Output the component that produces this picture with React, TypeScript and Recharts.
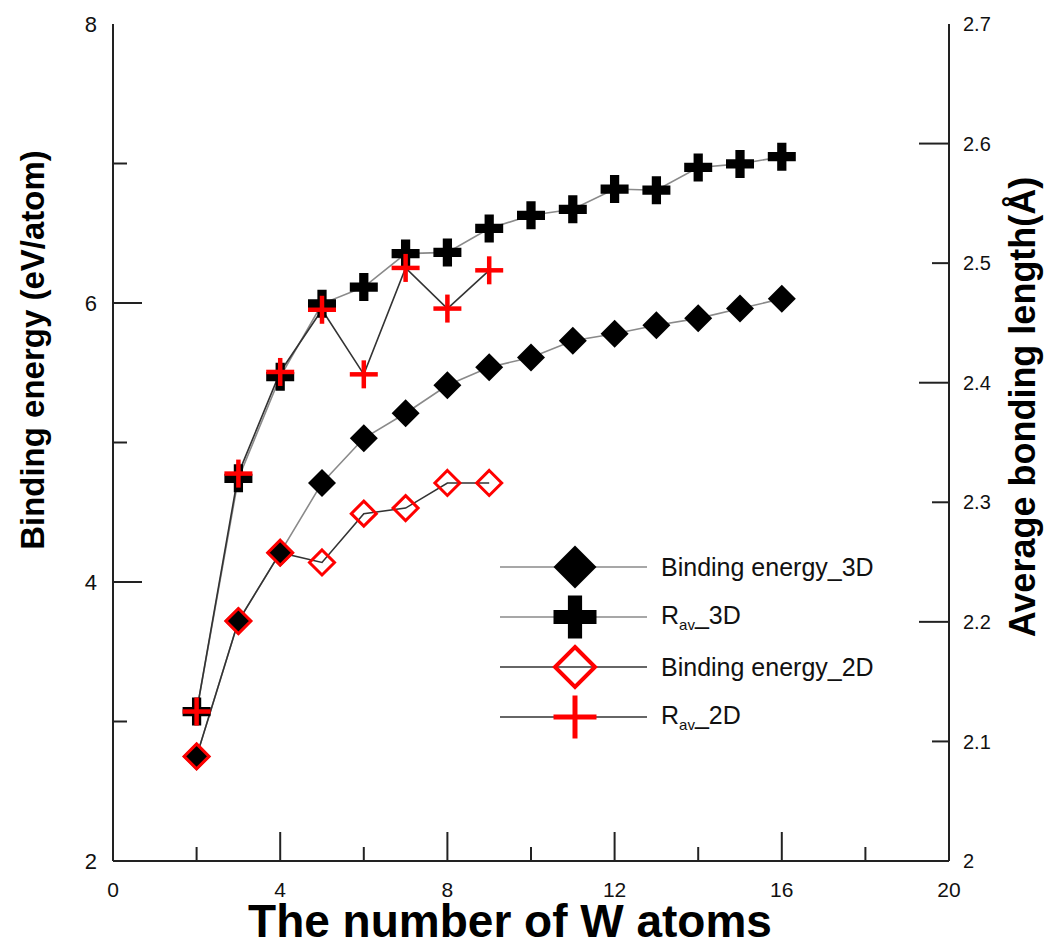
import React from 'react';
import { LineChart, Line, XAxis, YAxis, Legend } from 'recharts';

// number of W atoms in the cluster
const ATOMS = [2, 3, 4, 5, 6, 7, 8, 9, 10, 11, 12, 13, 14, 15, 16];
// binding energy (eV/atom), left axis
const BE_3D = [2.75, 3.72, 4.21, 4.71, 5.03, 5.21, 5.41, 5.54, 5.61, 5.73, 5.78, 5.84, 5.89, 5.96, 6.03];
const BE_2D = [2.75, 3.72, 4.21, 4.14, 4.49, 4.53, 4.71, 4.71];
// average bonding length (Å), right axis
const RAV_3D = [2.125, 2.32, 2.405, 2.466, 2.48, 2.508, 2.509, 2.529, 2.54, 2.545, 2.562, 2.561, 2.58, 2.583, 2.589];
const RAV_2D = [2.125, 2.324, 2.409, 2.461, 2.407, 2.496, 2.462, 2.494];

const X_TICKS = [0, 2, 4, 6, 8, 10, 12, 14, 16, 18, 20];
const LEFT_TICKS = [2, 3, 4, 5, 6, 7, 8];
const RIGHT_TICKS = [2, 2.1, 2.2, 2.3, 2.4, 2.5, 2.6, 2.7];

const FONT = '"Liberation Sans", Arial, sans-serif';
const AXIS = '#222';
const RED = '#ff0000';
const GRAY_LINE = '#8a8a8a';
const DARK_LINE = '#333';

// recharts treats tickSize 0 as "use default", so keep it at 1 and add it back
const TS = 1;
const X_GAP = 20;
const L_GAP = 15;
const R_GAP = 13;

const rows = ATOMS.map((n, i) => ({
  n,
  be3d: BE_3D[i],
  rav3d: RAV_3D[i],
  be2d: BE_2D[i] ?? null,
  rav2d: RAV_2D[i] ?? null,
}));

type Kind = 'diamond' | 'cross' | 'odiamond' | 'tcross';

function Marker({ kind, cx, cy, s }: { kind: Kind; cx: number; cy: number; s: number }) {
  if (kind === 'diamond') {
    return <path d={`M${cx},${cy - s}L${cx + s},${cy}L${cx},${cy + s}L${cx - s},${cy}Z`} fill="#000" />;
  }
  if (kind === 'odiamond') {
    const r = s - 1.5;
    return (
      <path d={`M${cx},${cy - r}L${cx + r},${cy}L${cx},${cy + r}L${cx - r},${cy}Z`}
            fill="none" stroke={RED} strokeWidth={s > 16 ? 4 : 3} />
    );
  }
  if (kind === 'cross') {
    const t = s * 0.33;
    const d = `M${cx - t},${cy - s}H${cx + t}V${cy - t}H${cx + s}V${cy + t}H${cx + t}V${cy + s}H${cx - t}V${cy + t}H${cx - s}V${cy - t}H${cx - t}Z`;
    return <path d={d} fill="#000" />;
  }
  const w = s > 16 ? 5 : 4.5;
  return (
    <g stroke={RED} strokeWidth={w}>
      <line x1={cx - s} x2={cx + s} y1={cy} y2={cy} />
      <line x1={cx} x2={cx} y1={cy - s} y2={cy + s} />
    </g>
  );
}

const makeDot = (kind: Kind) => (props: any) => {
  const { cx, cy, index } = props;
  if (cx == null || cy == null || Number.isNaN(cy)) return <g key={index} />;
  return <Marker key={index} kind={kind} cx={cx} cy={cy} s={14} />;
};

function BottomTick(props: any) {
  const { x, y, payload } = props;
  const v = payload.value;
  const major = v % 4 === 0;
  const axisY = y - X_GAP - TS;
  return (
    <g>
      {v > 0 && v < 20 && (
        <line x1={x} x2={x} y1={axisY} y2={axisY - (major ? 29 : 14)} stroke={AXIS} strokeWidth={2} />
      )}
      {major && (
        <text x={x} y={y} dy="0.72em" textAnchor="middle" fontSize={21} fontFamily={FONT} fill="#111">{v}</text>
      )}
    </g>
  );
}

function LeftTick(props: any) {
  const { x, y, payload } = props;
  const v = payload.value;
  const major = v % 2 === 0;
  const axisX = x + L_GAP + TS;
  return (
    <g>
      {v > 2 && v < 8 && (
        <line x1={axisX} x2={axisX + (major ? 29 : 14)} y1={y} y2={y} stroke={AXIS} strokeWidth={2} />
      )}
      {major && (
        <text x={x} y={y} dy="0.36em" textAnchor="end" fontSize={22} fontFamily={FONT} fill="#111">{v}</text>
      )}
    </g>
  );
}

function RightTick(props: any) {
  const { x, y, payload } = props;
  const v = payload.value;
  const tenth = Math.round(v * 10);
  const major = tenth % 2 === 0;
  const axisX = x - R_GAP - TS;
  return (
    <g>
      {tenth > 20 && tenth < 27 && (
        <line x1={axisX} x2={axisX - (major ? 30 : 17)} y1={y} y2={y} stroke={AXIS} strokeWidth={2} />
      )}
      <text x={x} y={y} dy="0.36em" textAnchor="start" fontSize={20} fontFamily={FONT} fill="#111">
        {tenth === 20 ? '2' : v.toFixed(1)}
      </text>
    </g>
  );
}

const xTitle = (p: any) => {
  const vb = p.viewBox || { x: 113, y: 861, width: 836 };
  return (
    <text x={vb.x + vb.width / 2 - 21} y={vb.y + 76} textAnchor="middle" fontSize={46}
          fontWeight="bold" fontFamily={FONT} fill="#000">The number of W atoms</text>
  );
};

const leftTitle = (p: any) => {
  const vb = p.viewBox || { x: 0, y: 24 };
  const tx = vb.x + 44;
  const ty = vb.y + 326;
  return (
    <text x={tx} y={ty} transform={`rotate(-90 ${tx} ${ty})`} textAnchor="middle" fontSize={33}
          fontWeight="bold" fontFamily={FONT} fill="#000">Binding energy (eV/atom)</text>
  );
};

const rightTitle = (p: any) => {
  const vb = p.viewBox || { x: 949, y: 24 };
  const tx = vb.x + 86;
  const ty = vb.y + 383;
  return (
    <text x={tx} y={ty} transform={`rotate(-90 ${tx} ${ty})`} textAnchor="middle" fontSize={36}
          fontWeight="bold" fontFamily={FONT} fill="#000">Average bonding length(Å)</text>
  );
};

const LEGEND_ITEMS: { key: string; kind: Kind; line: string; name: string; sub?: string; tail?: string }[] = [
  { key: 'be3d', kind: 'diamond', line: GRAY_LINE, name: 'Binding energy_3D' },
  { key: 'rav3d', kind: 'cross', line: GRAY_LINE, name: 'R', sub: 'av', tail: '_3D' },
  { key: 'be2d', kind: 'odiamond', line: DARK_LINE, name: 'Binding energy_2D' },
  { key: 'rav2d', kind: 'tcross', line: DARK_LINE, name: 'R', sub: 'av', tail: '_2D' },
];

function LegendBox() {
  return (
    <div style={{ fontFamily: FONT, color: '#111' }}>
      {LEGEND_ITEMS.map((it) => (
        <div key={it.key} style={{ display: 'flex', alignItems: 'center', height: 50 }}>
          <svg width={150} height={50} style={{ display: 'block' }}>
            <line x1={0} x2={147} y1={25} y2={25} stroke={it.line} strokeWidth={1.6} />
            <Marker kind={it.kind} cx={75} cy={25} s={21.5} />
          </svg>
          <span style={{ marginLeft: 11, fontSize: 25, whiteSpace: 'nowrap' }}>
            {it.name}
            {it.sub && <sub style={{ fontSize: 15 }}>{it.sub}</sub>}
            {it.tail}
          </span>
        </div>
      ))}
    </div>
  );
}

export default function App() {
  return (
    <div style={{ position: 'absolute', left: 0, top: 0, width: 1051, height: 946, background: '#fff' }}>
      <LineChart width={1051} height={946} data={rows} margin={{ top: 24, right: 0, bottom: 0, left: 0 }}>
        <XAxis xAxisId="top" orientation="top" type="number" domain={[0, 20]} height={0}
               tick={false} tickLine={false} axisLine={{ stroke: AXIS, strokeWidth: 2 }} />
        <XAxis dataKey="n" type="number" domain={[0, 20]} ticks={X_TICKS} interval={0} height={85}
               tickSize={TS} tickMargin={X_GAP} tickLine={false} tick={BottomTick} allowDataOverflow
               axisLine={{ stroke: AXIS, strokeWidth: 2 }} label={xTitle} />
        <YAxis yAxisId="be" type="number" domain={[2, 8]} ticks={LEFT_TICKS} interval={0} width={113}
               tickSize={TS} tickMargin={L_GAP} tickLine={false} tick={LeftTick} allowDataOverflow
               axisLine={{ stroke: AXIS, strokeWidth: 2 }} label={leftTitle} />
        <YAxis yAxisId="rav" orientation="right" type="number" domain={[2, 2.7]} ticks={RIGHT_TICKS}
               interval={0} width={102} tickSize={TS} tickMargin={R_GAP} tickLine={false} tick={RightTick}
               allowDataOverflow axisLine={{ stroke: AXIS, strokeWidth: 2 }} label={rightTitle} />
        <Legend layout="vertical" align="center" verticalAlign="middle" content={<LegendBox />}
                wrapperStyle={{ left: 500, top: 542, width: 420, height: 200 }} />
        <Line yAxisId="be" dataKey="be3d" type="linear" stroke={GRAY_LINE} strokeWidth={1.6}
              dot={makeDot('diamond')} activeDot={false} isAnimationActive={false} />
        <Line yAxisId="rav" dataKey="rav3d" type="linear" stroke={GRAY_LINE} strokeWidth={1.6}
              dot={makeDot('cross')} activeDot={false} isAnimationActive={false} />
        <Line yAxisId="be" dataKey="be2d" type="linear" stroke={DARK_LINE} strokeWidth={1.6}
              dot={makeDot('odiamond')} activeDot={false} isAnimationActive={false} />
        <Line yAxisId="rav" dataKey="rav2d" type="linear" stroke={DARK_LINE} strokeWidth={1.6}
              dot={makeDot('tcross')} activeDot={false} isAnimationActive={false} />
      </LineChart>
    </div>
  );
}
